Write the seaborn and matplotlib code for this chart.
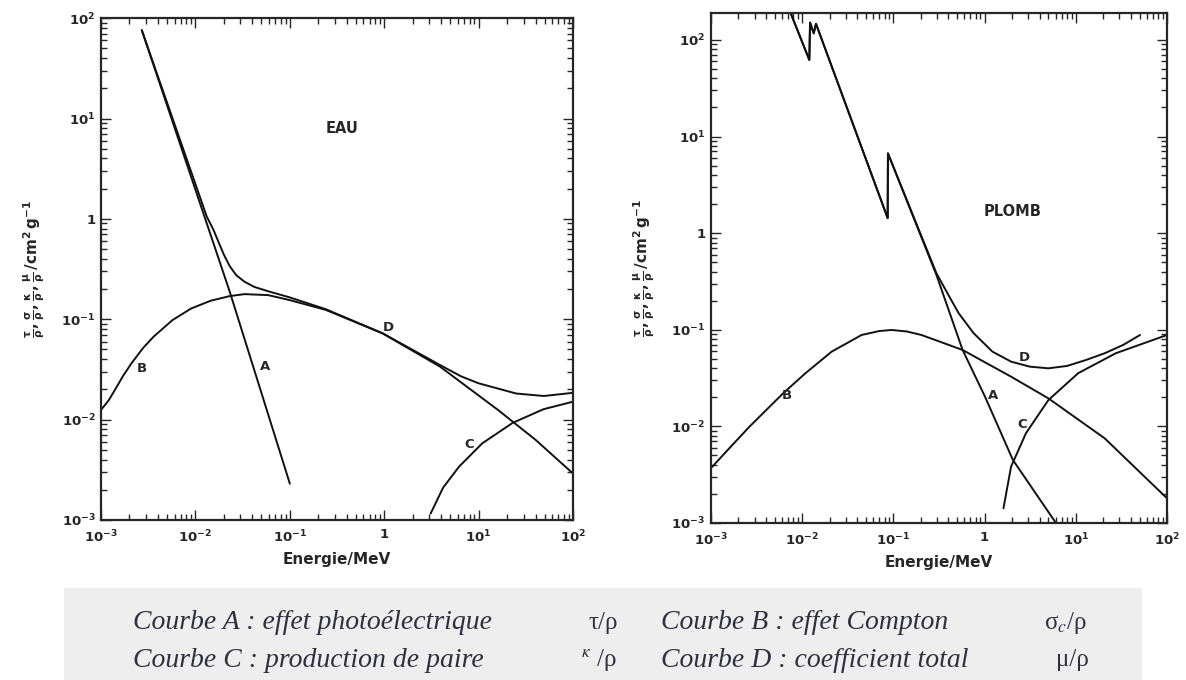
import matplotlib
matplotlib.use("Agg")
import seaborn as sns
import matplotlib.pyplot as plt
from matplotlib.patches import Rectangle

# ---- EAU (water): energy in MeV, coefficient in cm2/g ----
eau_a_e = [0.0027, 0.023, 0.10]
eau_a_y = [76, 0.19, 0.0023]
eau_b_e = [0.001, 0.0012, 0.0014, 0.0017, 0.0021, 0.0028, 0.0036, 0.0057, 0.009,
           0.0145, 0.023, 0.033, 0.059, 0.10, 0.24, 0.96, 3.9, 16, 40, 100]
eau_b_y = [0.0125, 0.0155, 0.0197, 0.027, 0.0364, 0.052, 0.067, 0.098, 0.128,
           0.153, 0.170, 0.178, 0.174, 0.155, 0.124, 0.0723, 0.0337, 0.0125,
           0.0063, 0.0029]
eau_c_e = [3.1, 4.2, 6.2, 10.9, 23, 48.6, 100]
eau_c_y = [0.00116, 0.0021, 0.0034, 0.0058, 0.0093, 0.0127, 0.0151]
eau_d_e = [0.0027, 0.0132, 0.0155, 0.0174, 0.020, 0.023, 0.027, 0.033, 0.042,
           0.059, 0.10, 0.24, 0.96, 3.9, 6.5, 10, 25, 49, 100]
eau_d_y = [76, 1.05, 0.78, 0.60, 0.44, 0.34, 0.275, 0.237, 0.21, 0.19, 0.165,
           0.126, 0.0725, 0.035, 0.027, 0.023, 0.0182, 0.0172, 0.0185]

# ---- PLOMB (lead) ----
pb_a_e = [0.00746, 0.01197, 0.01219, 0.01337, 0.01416, 0.0865, 0.0871, 0.296,
          0.573, 1.01, 2.04, 6.05]
pb_a_y = [190, 62, 151, 117, 147, 1.43, 6.7, 0.37, 0.062, 0.0203, 0.0045, 0.001]
pb_b_e = [0.001, 0.00165, 0.00264, 0.00618, 0.01086, 0.021, 0.0448, 0.07, 0.0953,
          0.14, 0.203, 0.573, 1.95, 5.0, 20.7, 100]
pb_b_y = [0.0037, 0.00617, 0.00993, 0.022, 0.0355, 0.0593, 0.0883, 0.097, 0.0995,
          0.096, 0.0883, 0.0618, 0.0327, 0.0195, 0.00753, 0.0018]
pb_c_e = [1.61, 1.95, 2.84, 5.0, 10.6, 27.4, 100]
pb_c_y = [0.00142, 0.00383, 0.0085, 0.0187, 0.0355, 0.0571, 0.0883]
pb_d_e = [0.00746, 0.01197, 0.01219, 0.01337, 0.01416, 0.0865, 0.0871, 0.296,
          0.40, 0.52, 0.759, 1.22, 1.95, 3.13, 5.0, 8.0, 12.9, 20.7, 33.1, 50.6]
pb_d_y = [190, 62, 151, 117, 147, 1.43, 6.7, 0.385, 0.23, 0.148, 0.092, 0.0593,
          0.0468, 0.0415, 0.0399, 0.0422, 0.0486, 0.0571, 0.0697, 0.0883]

# curve letters (x, y in data units)
eau_labels = {"A": (0.055, 0.034), "B": (0.0027, 0.032), "C": (7.9, 0.0056),
              "D": (1.11, 0.082)}
pb_labels = {"A": (1.25, 0.021), "B": (0.0068, 0.021), "C": (2.6, 0.0104),
             "D": (2.7, 0.052)}

x_ticks = [1e-3, 1e-2, 1e-1, 1, 10, 100]
x_tick_labels = ["$10^{-3}$", "$10^{-2}$", "$10^{-1}$", "1", "$10^{1}$", "$10^{2}$"]
y_ticks = [1e-3, 1e-2, 1e-1, 1, 10, 100]
y_tick_labels = ["$10^{-3}$", "$10^{-2}$", "$10^{-1}$", "1", "$10^{1}$", "$10^{2}$"]

captions = [
    ("Courbe A : effet photoélectrique", "τ/ρ", "Courbe B : effet Compton", "σ$_c$/ρ"),
    ("Courbe C : production de paire", "$^{κ}$ /ρ", "Courbe D : coefficient total", "μ/ρ"),
]

sns.set_style("ticks")
plt.rcParams["font.family"] = ["DejaVu Sans"]
plt.rcParams["mathtext.fontset"] = "custom"
plt.rcParams["mathtext.rm"] = "DejaVu Sans:bold"
plt.rcParams["mathtext.it"] = "DejaVu Sans:bold"
plt.rcParams["mathtext.bf"] = "DejaVu Sans:bold"

YLABEL = (r"$\frac{\tau}{\rho},\frac{\sigma}{\rho},\frac{\kappa}{\rho},"
          r"\frac{\mu}{\rho}\,/\mathrm{cm^{2}\,g^{-1}}$")


def draw_panel(ax, curves, labels, name, name_pos, ytop):
    for e, y in curves:
        sns.lineplot(x=e, y=y, ax=ax, color="#111111", linewidth=1.4,
                     sort=False, estimator=None)
    ax.set_xscale("log")
    ax.set_yscale("log")
    ax.set_xlim(1e-3, 100)
    ax.set_ylim(1e-3, ytop)
    ax.set_xticks(x_ticks, x_tick_labels, fontweight="bold")
    ax.set_yticks(y_ticks, y_tick_labels, fontweight="bold")
    ax.tick_params(which="both", direction="in", top=True, right=True,
                   labelsize=9.5, width=1)
    ax.tick_params(axis="x", pad=6)
    ax.tick_params(axis="y", pad=4)
    ax.tick_params(which="major", length=7)
    ax.tick_params(which="minor", length=4)
    for sp in ax.spines.values():
        sp.set_linewidth(1.6)
    ax.set_xlabel("Energie/MeV", fontsize=11, fontweight="bold", labelpad=5)
    ax.set_ylabel(YLABEL, fontsize=11, labelpad=10)
    for k, (lx, ly) in labels.items():
        ax.text(lx, ly, k, fontsize=9.5, fontweight="bold", ha="center", va="center")
    ax.text(name_pos[0], name_pos[1], name, fontsize=10.5, fontweight="bold",
            ha="center", va="center")


fig = plt.figure(figsize=(11.86, 6.8), dpi=100)
ax1 = fig.add_axes([0.0852, 0.2353, 0.398, 0.738])
ax2 = fig.add_axes([0.5995, 0.2309, 0.3845, 0.75])

draw_panel(ax1, [(eau_a_e, eau_a_y), (eau_b_e, eau_b_y), (eau_c_e, eau_c_y),
                 (eau_d_e, eau_d_y)], eau_labels, "EAU", (0.36, 8.0), 100)
draw_panel(ax2, [(pb_a_e, pb_a_y), (pb_b_e, pb_b_y), (pb_c_e, pb_c_y),
                 (pb_d_e, pb_d_y)], pb_labels, "PLOMB", (2.05, 1.67), 190)

# caption band
fig.patches.append(Rectangle((0.054, 0.0), 0.909, 0.135, transform=fig.transFigure,
                             facecolor="#eeeeee", edgecolor="none", zorder=0))
cap_font = dict(family="Liberation Serif", style="italic", fontsize=20,
                color="#2f2f3f", va="center")
sym_font = dict(family="Liberation Serif", fontsize=18, color="#2f2f3f",
                va="center", math_fontfamily="stix")
for (t1, s1, t2, s2), yy, sx1, sx2 in zip(captions, [0.084, 0.029],
                                         [0.496, 0.490], [0.880, 0.890]):
    fig.text(0.112, yy, t1, **cap_font)
    fig.text(sx1, yy, s1, **sym_font)
    fig.text(0.557, yy, t2, **cap_font)
    fig.text(sx2, yy, s2, **sym_font)

fig.savefig("out.png", dpi=100)
